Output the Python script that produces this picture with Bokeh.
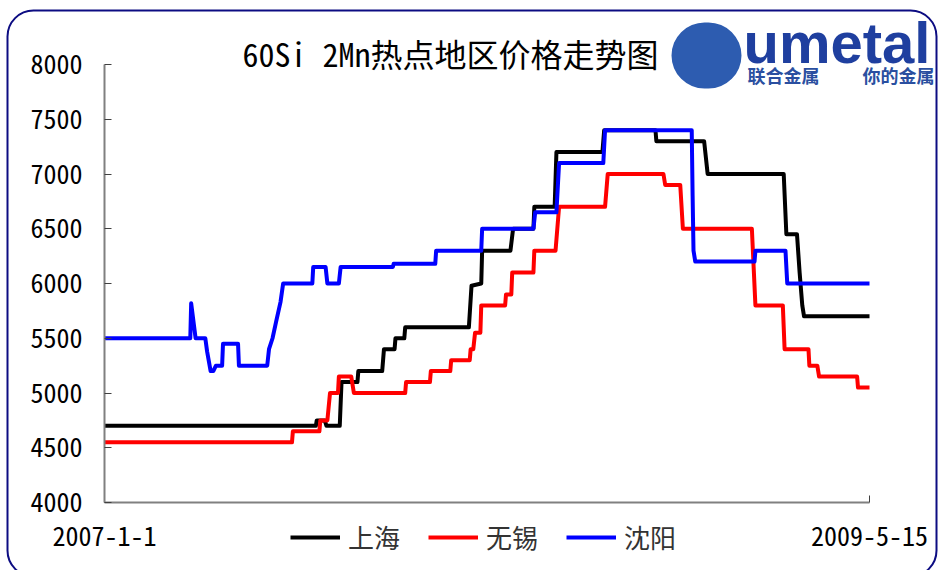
import pandas as pd
from bokeh.plotting import figure
from bokeh.models import (Range1d, FixedTicker, Legend, LegendItem, Label,
                          BoxAnnotation, ColumnDataSource)
from bokeh.embed import file_html
from bokeh.resources import INLINE

title_text = "60Si 2Mn热点地区价格走势图"
series_names = ["上海", "无锡", "沈阳"]
series_colors = ["#000000", "#ff0000", "#0000ff"]
x_start, x_end = "2007-01-01", "2009-05-15"
x_tick_labels = ["2007-1-1", "2009-5-15"]
y_min, y_max = 4000, 8000
y_ticks = [4000, 4500, 5000, 5500, 6000, 6500, 7000, 7500, 8000]

sh_dates = ["2007-01-01", "2007-08-28", "2007-08-29", "2007-09-07", "2007-09-09", "2007-09-24",
            "2007-09-26", "2007-10-14", "2007-10-15", "2007-11-11", "2007-11-13", "2007-11-25",
            "2007-11-26", "2007-12-06", "2007-12-07", "2008-02-17", "2008-02-20", "2008-03-02",
            "2008-03-03", "2008-04-04", "2008-04-07", "2008-04-30", "2008-05-01", "2008-05-24",
            "2008-05-26", "2008-07-17", "2008-07-19", "2008-09-15", "2008-09-16", "2008-11-09",
            "2008-11-13", "2009-02-07", "2009-02-10", "2009-02-22", "2009-02-25", "2009-02-28",
            "2009-03-02", "2009-05-15"]
sh_prices = [4700, 4700, 4750, 4750, 4700, 4700, 5100, 5100, 5200, 5200, 5400, 5400,
             5500, 5500, 5600, 5600, 5980, 6000, 6300, 6300, 6500, 6500, 6700, 6700,
             7200, 7200, 7400, 7400, 7300, 7300, 7000, 7000, 6450, 6450, 6100, 5800,
             5700, 5700]

wx_dates = ["2007-01-01", "2007-08-01", "2007-08-02", "2007-09-01", "2007-09-02", "2007-09-10",
            "2007-09-13", "2007-09-22", "2007-09-23", "2007-10-07", "2007-10-10", "2007-12-07",
            "2007-12-08", "2008-01-04", "2008-01-05", "2008-01-27", "2008-01-28", "2008-02-18",
            "2008-02-19", "2008-02-22", "2008-02-24", "2008-03-01", "2008-03-02", "2008-03-29",
            "2008-03-30", "2008-04-05", "2008-04-06", "2008-04-30", "2008-05-01", "2008-05-25",
            "2008-05-29", "2008-07-20", "2008-07-23", "2008-09-24", "2008-09-26", "2008-10-13",
            "2008-10-16", "2009-01-02", "2009-01-06", "2009-02-06", "2009-02-08", "2009-03-07",
            "2009-03-08", "2009-03-17", "2009-03-19", "2009-05-01", "2009-05-02", "2009-05-15"]
wx_prices = [4550, 4550, 4650, 4650, 4750, 4750, 5000, 5000, 5150, 5150, 5000, 5000,
             5100, 5100, 5200, 5200, 5300, 5300, 5400, 5400, 5550, 5550, 5800, 5800,
             5900, 5900, 6100, 6100, 6300, 6300, 6700, 6700, 7000, 7000, 6900, 6900,
             6500, 6500, 5800, 5800, 5400, 5400, 5250, 5250, 5150, 5150, 5050, 5050]

sy_dates = ["2007-01-01", "2007-04-08", "2007-04-09", "2007-04-14", "2007-04-25", "2007-04-27",
            "2007-05-01", "2007-05-04", "2007-05-07", "2007-05-14", "2007-05-15", "2007-06-01",
            "2007-06-02", "2007-07-04", "2007-07-06", "2007-07-10", "2007-07-14", "2007-07-19",
            "2007-07-22", "2007-08-24", "2007-08-25", "2007-09-08", "2007-09-10", "2007-09-23",
            "2007-09-25", "2007-11-23", "2007-11-24", "2008-01-10", "2008-01-11", "2008-03-02",
            "2008-03-03", "2008-04-30", "2008-05-02", "2008-05-26", "2008-05-29", "2008-07-18",
            "2008-07-20", "2008-10-26", "2008-10-27", "2008-10-28", "2008-10-30", "2009-01-05",
            "2009-01-06", "2009-02-09", "2009-02-11", "2009-05-15"]
sy_prices = [5500, 5500, 5820, 5500, 5500, 5380, 5200, 5200, 5250, 5250, 5450, 5450,
             5250, 5250, 5400, 5500, 5650, 5830, 6000, 6000, 6150, 6150, 6000, 6000,
             6150, 6150, 6180, 6180, 6300, 6300, 6500, 6500, 6650, 6650, 7100, 7100,
             7400, 7400, 6800, 6300, 6200, 6200, 6300, 6300, 6000, 6000]

MONO = "Noto Sans Mono CJK SC, Noto Sans CJK SC"

# canvas geometry (pixels): the frame fills the canvas, axes are pinned inside it
W, H = 939, 570
AX_LEFT, AX_RIGHT, AX_TOP, AX_BOTTOM = 104, 869, 64, 502

t0 = pd.Timestamp(x_start)
t1 = pd.Timestamp(x_end)
t0_ms = int(t0.value // 10**6)
t1_ms = int(t1.value // 10**6)
ms_per_px = (t1_ms - t0_ms) / (AX_RIGHT - AX_LEFT)
x_lo = t0_ms - AX_LEFT * ms_per_px
x_hi = t1_ms + (W - AX_RIGHT) * ms_per_px
v_per_px = (y_max - y_min) / (AX_BOTTOM - AX_TOP)
y_lo = y_min - (H - AX_BOTTOM) * v_per_px
y_hi = y_max + AX_TOP * v_per_px

p = figure(width=W, height=H, x_axis_type="datetime",
           x_range=Range1d(x_lo, x_hi), y_range=Range1d(y_lo, y_hi),
           output_backend="svg", toolbar_location=None,
           min_border_left=0, min_border_right=0, min_border_top=0, min_border_bottom=0)
p.outline_line_color = None
p.grid.visible = False
p.background_fill_color = "white"
p.border_fill_color = "white"

# rounded outer border (its bottom edge runs just past the window)
p.add_layout(BoxAnnotation(left=7, right=936, top=H - 10, bottom=H - 576,
                           left_units="screen", right_units="screen",
                           top_units="screen", bottom_units="screen",
                           fill_alpha=0, line_color="#0c0c82", line_alpha=1, line_width=2,
                           border_radius=26))

renderers = []
for dates, prices, color in [(sh_dates, sh_prices, series_colors[0]),
                             (wx_dates, wx_prices, series_colors[1]),
                             (sy_dates, sy_prices, series_colors[2])]:
    src = ColumnDataSource(dict(x=pd.to_datetime(dates), y=prices))
    r = p.line("x", "y", source=src, line_color=color, line_width=4, line_join="round")
    renderers.append(r)

for ax in (p.xaxis[0], p.yaxis[0]):
    ax.axis_line_color = "#808080"
    ax.axis_line_width = 2
    ax.major_tick_line_color = "#404040"
    ax.major_tick_in = 7
    ax.major_tick_out = 0
    ax.minor_tick_line_color = None
    ax.major_label_text_font = MONO
    ax.major_label_text_font_size = "26px"
    ax.major_label_text_color = "#000000"

p.yaxis.ticker = FixedTicker(ticks=y_ticks)
p.yaxis.bounds = (y_min, y_max)
p.yaxis.fixed_location = t0_ms
p.yaxis.major_label_standoff = 22
p.xaxis.ticker = FixedTicker(ticks=[t0_ms, t1_ms])
p.xaxis.major_label_overrides = {t0_ms: x_tick_labels[0], t1_ms: x_tick_labels[1]}
p.xaxis.bounds = (t0_ms, t1_ms)
p.xaxis.fixed_location = y_min
p.xaxis.major_label_standoff = 24

legend = Legend(items=[LegendItem(label=n, renderers=[r]) for n, r in zip(series_names, renderers)],
                orientation="horizontal", location=(290, H - 555),
                label_text_font=MONO, label_text_font_size="26px", label_text_color="#333333",
                glyph_width=50, glyph_height=30, label_height=30, label_standoff=8,
                spacing=28, padding=0, margin=0, border_line_color=None,
                background_fill_alpha=0)
p.add_layout(legend, "center")

p.add_layout(Label(x=242, y=H - 52, x_units="screen", y_units="screen", text=title_text,
                   text_font=MONO, text_font_size="32px", text_color="#000000",
                   text_baseline="middle", text_align="left"))

# logo
p.add_layout(BoxAnnotation(left=671, right=741, top=H - 22, bottom=H - 88,
                           left_units="screen", right_units="screen",
                           top_units="screen", bottom_units="screen",
                           fill_color="#2d5cb0", fill_alpha=1, line_color=None,
                           border_radius=34))
p.add_layout(Label(x=743, y=H - 42, x_units="screen", y_units="screen", text="umetal",
                   text_font="Liberation Sans", text_font_style="bold",
                   text_font_size="58px", text_color="#1f3f9f", text_baseline="middle"))
p.add_layout(Label(x=747, y=H - 74, x_units="screen", y_units="screen", text="联合金属",
                   text_font="Noto Sans CJK SC", text_font_style="bold",
                   text_font_size="18px", text_color="#2a4fa0", text_baseline="middle"))
p.add_layout(Label(x=862, y=H - 74, x_units="screen", y_units="screen", text="你的金属",
                   text_font="Noto Sans CJK SC", text_font_style="bold",
                   text_font_size="18px", text_color="#2a4fa0", text_baseline="middle"))

open("out.html", "w").write(file_html(p, INLINE))
